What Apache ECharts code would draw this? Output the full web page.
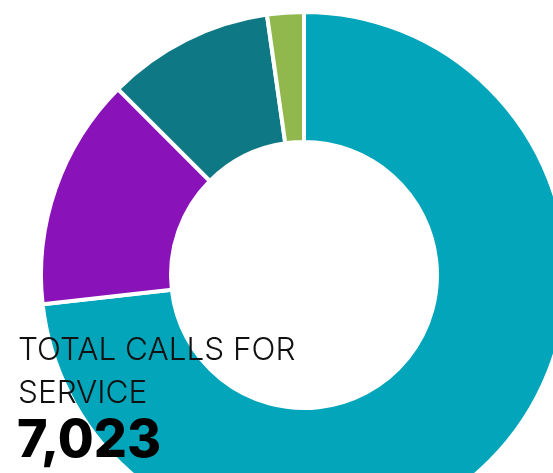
<!DOCTYPE html>
<html><head><meta charset="utf-8">
<script src="https://cdn.jsdelivr.net/npm/echarts@6/dist/echarts.min.js"></script>
<style>html,body{margin:0;padding:0;background:#fff}#c{width:553px;height:473px}</style>
</head><body><div id="c"></div>
<script>
const categories = ['Category A', 'Category B', 'Category C', 'Category D'];
const values = [5143, 1002, 720, 158];
const colors = ['#02A5BA', '#8912B9', '#0F7885', '#90B84C'];
const titleLines = ['TOTAL CALLS FOR', 'SERVICE'];
const totalLabel = '7,023';

const chart = echarts.init(document.getElementById('c'), null, {renderer: 'canvas'});
chart.setOption({
  animation: false,
  series: [{
    type: 'pie',
    center: [304, 275],
    radius: [133, 263],
    startAngle: 90,
    clockwise: true,
    label: {show: false},
    labelLine: {show: false},
    emphasis: {disabled: true},
    itemStyle: {borderColor: '#fff', borderWidth: 4},
    data: categories.map((c, i) => ({name: c, value: values[i], itemStyle: {color: colors[i]}}))
  }],
  graphic: [
    {type: 'text', z: 100, style: {x: 18, y: 351, text: titleLines[0], font: '300 31.5px Inter', fill: '#111', textVerticalAlign: 'middle'}},
    {type: 'text', z: 100, style: {x: 18, y: 394, text: titleLines[1], font: '300 31.5px Inter', fill: '#111', textVerticalAlign: 'middle'}},
    {type: 'text', z: 100, style: {x: 17, y: 441, text: totalLabel, font: '800 52px Inter', fill: '#000', textVerticalAlign: 'middle'}}
  ]
});
</script></body></html>
